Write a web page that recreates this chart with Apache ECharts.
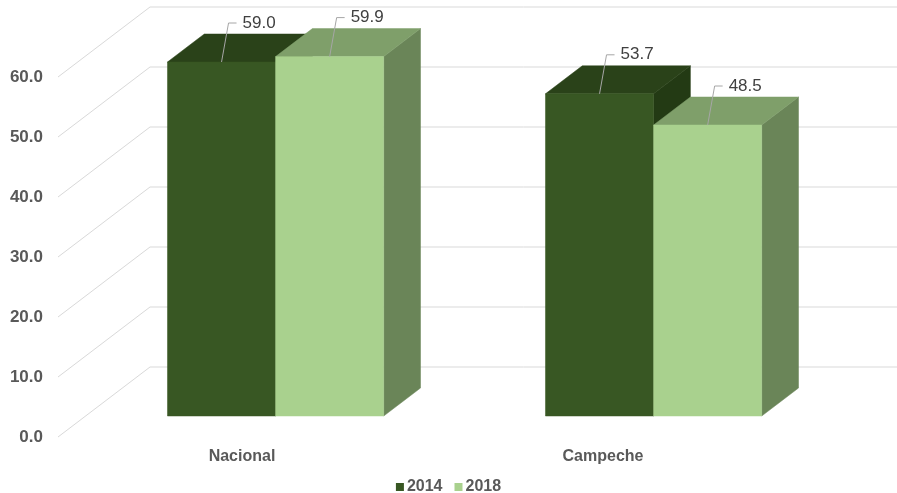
<!DOCTYPE html>
<html>
<head>
<meta charset="utf-8">
<script src="https://cdn.jsdelivr.net/npm/echarts@6/dist/echarts.min.js"></script>
<style>
  html, body { margin: 0; padding: 0; background: #fff; }
  #chart { width: 897px; height: 493px; }
</style>
</head>
<body>
<div id="chart"></div>
<script>
// data
const categories = ['Nacional', 'Campeche'];
const years = ['2014', '2018'];
const values2014 = [59.0, 53.7];
const values2018 = [59.9, 48.5];
const yTicks = [0, 10, 20, 30, 40, 50, 60];

// depth vector of the 3d box (front plane -> back wall)
const DX = 92, DY = -70;
const FONT = '"Liberation Sans", Arial, sans-serif';

function barRender(front, topC, sideC, dir) {
  return function (params, api) {
    const cat = api.value(0), val = api.value(1);
    const base = api.coord([cat, 0]);
    const top = api.coord([cat, val]);
    const bw = api.size([1, 0])[0] * 0.286;
    const cx = base[0] + 0.3 * DX + 1;
    const x0 = dir < 0 ? cx - bw : cx;
    const x1 = x0 + bw;
    const yb = base[1] + 0.3 * DY;
    const yt = top[1] + 0.3 * DY;
    const dx = 0.4 * DX, dy = 0.4 * DY;
    const mx = (x0 + x1) / 2;
    const ly = yt - 39;
    return {
      type: 'group',
      children: [
        { type: 'polygon', shape: { points: [[x1, yt], [x1 + dx, yt + dy], [x1 + dx, yb + dy], [x1, yb]] },
          style: { fill: sideC, stroke: sideC, lineWidth: 0.5 } },
        { type: 'polygon', shape: { points: [[x0, yt], [x1, yt], [x1 + dx, yt + dy], [x0 + dx, yt + dy]] },
          style: { fill: topC, stroke: topC, lineWidth: 0.5 } },
        { type: 'rect', shape: { x: x0, y: yt, width: bw, height: yb - yt },
          style: { fill: front, stroke: front, lineWidth: 0.5 } },
        { type: 'polyline', shape: { points: [[mx, yt], [mx + 7, ly], [mx + 15, ly]] },
          style: { stroke: '#a6a6a6', lineWidth: 1, fill: null } },
        { type: 'text', x: mx + 21, y: ly,
          style: { text: val.toFixed(1), fill: '#404040', font: '17px ' + FONT, verticalAlign: 'middle', align: 'left' } }
      ]
    };
  };
}

function gridRender(params, api) {
  const v = api.value(1);
  const x0 = params.coordSys.x;
  const y = api.coord([0, v])[1];
  return {
    type: 'polyline',
    shape: { points: [[x0, y], [x0 + DX, y + DY], [api.getWidth(), y + DY]] },
    style: { stroke: '#d9d9d9', lineWidth: 1, fill: null }
  };
}

const chart = echarts.init(document.getElementById('chart'));
chart.setOption({
  backgroundColor: '#ffffff',
  animation: false,
  grid: { left: 58, right: 83, top: 77, bottom: 56 },
  legend: {
    data: years,
    left: 'center',
    top: 474,
    itemWidth: 8,
    itemHeight: 8,
    itemGap: 12,
    icon: 'rect',
    textStyle: { color: '#595959', fontSize: 16, fontWeight: 'bold', fontFamily: FONT, padding: [0, 0, 0, -2] }
  },
  xAxis: {
    type: 'category',
    data: categories,
    axisLine: { show: false },
    axisTick: { show: false },
    axisLabel: {
      color: '#595959', fontSize: 16, fontWeight: 'bold', fontFamily: FONT, margin: 12,
      formatter: function (v, i) { return i === 1 ? '{c|' + v + '}' : '{n|' + v + '}'; },
      rich: {
        n: { color: '#595959', fontSize: 16, fontWeight: 'bold', fontFamily: FONT, padding: [0, 10, 0, 0] },
        c: { color: '#595959', fontSize: 16, fontWeight: 'bold', fontFamily: FONT, padding: [0, 44, 0, 0] }
      }
    }
  },
  yAxis: {
    type: 'value',
    min: 0,
    max: 60,
    interval: 10,
    axisLine: { show: false },
    axisTick: { show: false },
    splitLine: { show: false },
    axisLabel: {
      color: '#595959', fontSize: 17, fontWeight: 'bold', fontFamily: FONT, margin: 15,
      formatter: function (v) { return v.toFixed(1); }
    }
  },
  series: [
    {
      type: 'custom',
      name: 'grid',
      silent: true,
      z: 1,
      renderItem: gridRender,
      data: yTicks.map(v => [0, v])
    },
    {
      type: 'custom',
      name: '2014',
      z: 2,
      itemStyle: { color: '#385723' },
      renderItem: barRender('#385723', '#2a4219', '#233a14', -1),
      data: values2014.map((v, i) => [i, v])
    },
    {
      type: 'custom',
      name: '2018',
      z: 3,
      itemStyle: { color: '#a9d18e' },
      renderItem: barRender('#a9d18e', '#7f9f6a', '#6a8558', 1),
      data: values2018.map((v, i) => [i, v])
    }
  ]
});
</script>
</body>
</html>
